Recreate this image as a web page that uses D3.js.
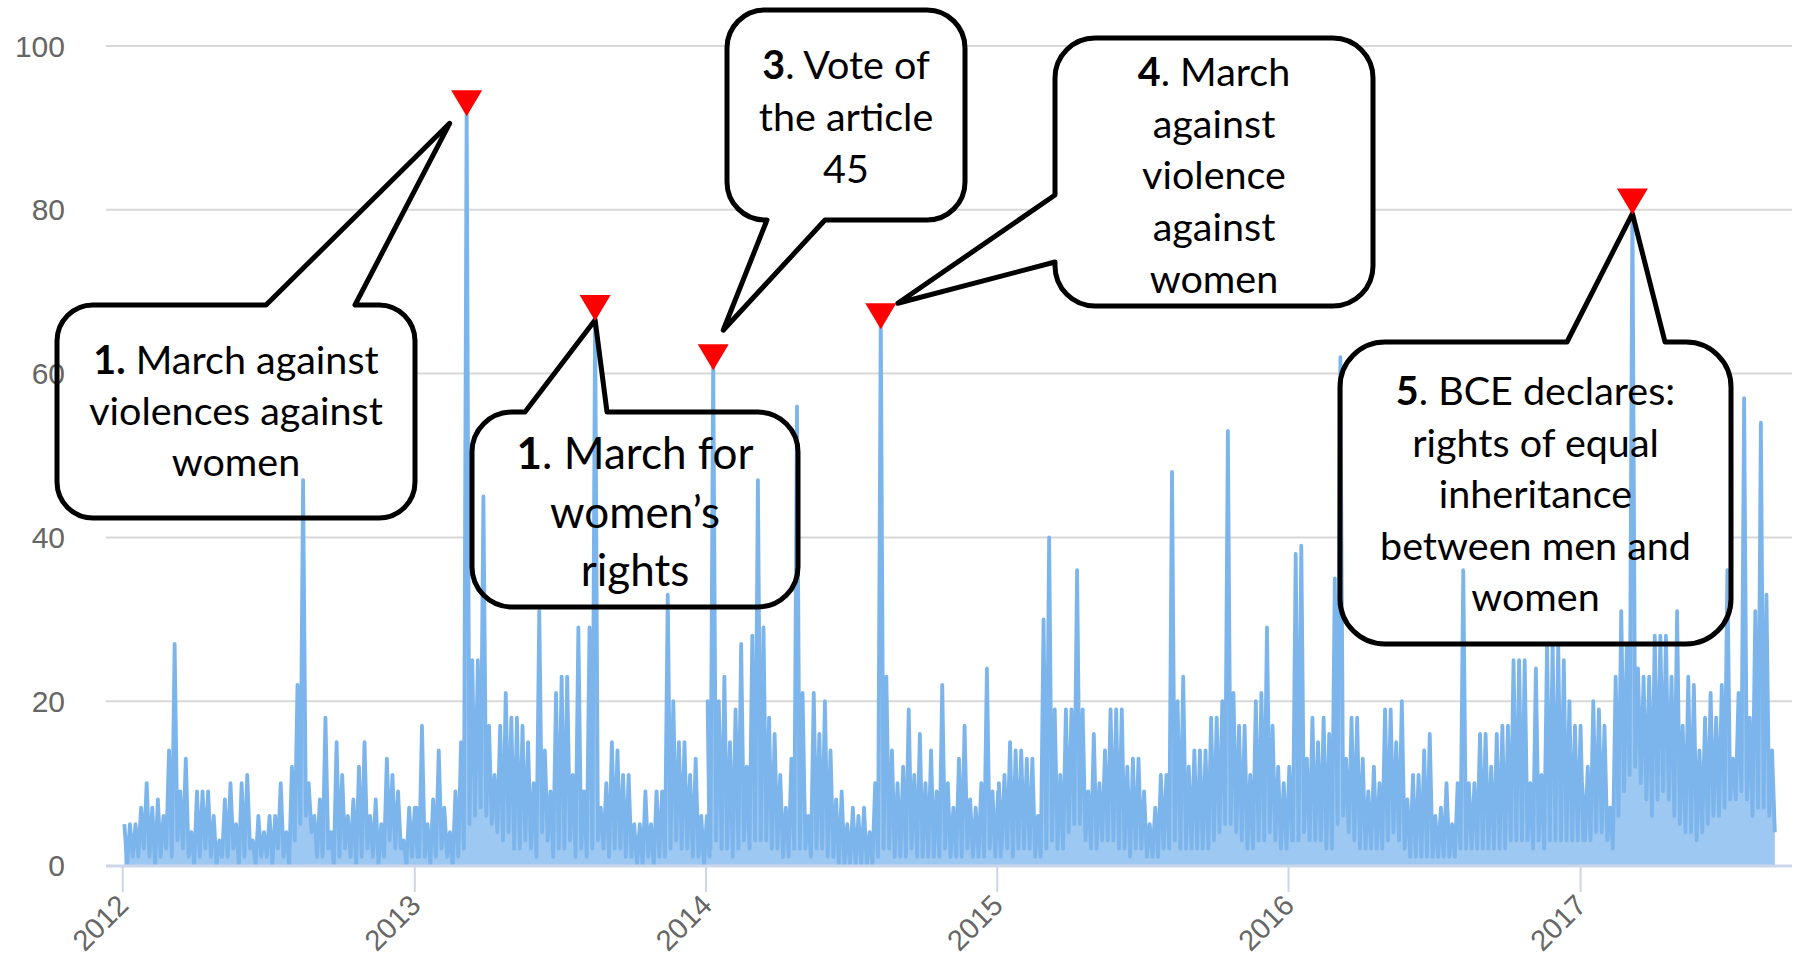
<!DOCTYPE html>
<html>
<head>
<meta charset="utf-8">
<script src="https://d3js.org/d3.v7.min.js"></script>
<style>
  html, body { margin: 0; padding: 0; background: #fff; }
  #chart svg { display: block; }
</style>
</head>
<body>
<div id="chart"></div>
<script>
// weekly highs and lows, one entry per week of each year
var peaks2012 = [5, 5, 5, 7, 10, 7, 8, 6, 14, 27, 9, 13, 4, 9, 9, 9, 6, 3, 8, 10, 5, 10, 11, 3, 6, 4, 6, 6, 10, 4, 12, 22, 47, 10, 6, 8, 18, 4, 15, 11, 6, 8, 12, 15, 6, 8, 5, 13, 11, 9, 3, 7, 7];
var lows2012  = [0, 1, 1, 2, 1, 0, 1, 2, 1, 3, 2, 1, 0, 1, 2, 1, 0, 1, 1, 2, 0, 1, 2, 0, 1, 1, 0, 2, 1, 0, 3, 5, 6, 4, 1, 1, 2, 0, 1, 2, 1, 0, 1, 2, 1, 0, 1, 3, 2, 2, 0, 1, 1];
var peaks2013 = [7, 17, 5, 8, 14, 7, 4, 9, 15, 93, 25, 25, 45, 17, 11, 17, 21, 18, 18, 17, 15, 10, 31, 14, 9, 21, 23, 23, 11, 29, 9, 29, 68, 7, 10, 15, 14, 11, 11, 5, 5, 9, 5, 9, 9, 33, 20, 15, 15, 11, 13, 6, 6];
var lows2013  = [1, 1, 0, 1, 2, 1, 0, 1, 2, 5, 6, 7, 6, 5, 4, 3, 4, 2, 2, 3, 2, 1, 4, 3, 1, 2, 2, 3, 1, 2, 1, 2, 3, 2, 1, 2, 2, 1, 1, 0, 0, 1, 0, 1, 1, 2, 3, 2, 2, 1, 1, 0, 1];
var peaks2014 = [20, 62, 20, 23, 15, 19, 27, 12, 28, 47, 29, 18, 16, 11, 7, 13, 56, 21, 6, 21, 16, 20, 14, 8, 9, 5, 7, 6, 7, 4, 10, 67, 23, 14, 10, 12, 19, 11, 16, 10, 14, 9, 22, 10, 7, 13, 17, 8, 7, 10, 24, 9, 9];
var lows2014  = [2, 3, 2, 2, 1, 2, 3, 2, 3, 3, 3, 2, 2, 1, 1, 2, 2, 2, 1, 2, 2, 1, 1, 0, 0, 0, 0, 0, 0, 0, 1, 2, 2, 1, 1, 1, 2, 1, 1, 1, 1, 1, 2, 1, 1, 1, 2, 1, 1, 1, 2, 1, 1];
var peaks2015 = [10, 11, 15, 14, 14, 13, 13, 6, 30, 40, 19, 11, 19, 19, 36, 19, 9, 16, 10, 14, 19, 19, 19, 12, 13, 13, 9, 5, 7, 11, 11, 48, 20, 23, 12, 14, 14, 14, 18, 18, 20, 53, 21, 17, 17, 11, 20, 21, 29, 17, 12, 10, 12];
var lows2015  = [2, 2, 1, 2, 2, 2, 1, 1, 2, 3, 2, 2, 4, 5, 5, 3, 2, 2, 3, 3, 3, 2, 2, 1, 2, 2, 1, 1, 1, 2, 2, 3, 2, 2, 2, 2, 2, 2, 3, 4, 5, 5, 4, 3, 2, 2, 3, 3, 4, 3, 2, 2, 3];
var peaks2016 = [10, 38, 39, 13, 18, 15, 18, 16, 35, 62, 13, 18, 18, 13, 9, 12, 10, 19, 19, 15, 20, 8, 11, 11, 14, 16, 6, 7, 10, 5, 10, 36, 10, 10, 16, 16, 12, 16, 17, 17, 25, 25, 25, 10, 24, 11, 27, 27, 27, 25, 20, 17, 17];
var lows2016  = [3, 3, 4, 3, 3, 3, 2, 2, 5, 6, 4, 3, 2, 2, 2, 2, 2, 3, 4, 3, 2, 1, 1, 1, 1, 1, 1, 1, 1, 1, 2, 2, 2, 2, 2, 2, 2, 2, 2, 3, 3, 3, 3, 2, 3, 2, 3, 3, 3, 3, 3, 3, 3];
var peaks2017 = [10, 12, 20, 19, 17, 7, 23, 31, 27, 81, 24, 23, 23, 28, 28, 28, 23, 31, 17, 23, 22, 14, 18, 21, 18, 22, 36, 13, 21, 57, 18, 31, 54, 33, 14];
var lows2017  = [3, 3, 4, 4, 3, 2, 6, 9, 11, 12, 10, 8, 6, 8, 9, 8, 6, 5, 4, 4, 3, 4, 5, 6, 6, 7, 8, 8, 9, 8, 6, 7, 7, 6, 4];

var years = [2012, 2013, 2014, 2015, 2016, 2017];
var yTicks = [0, 20, 40, 60, 80, 100];

// annotated events: year, week of the spike, bold number, text lines
var eventYear = [2013, 2013, 2014, 2014, 2017];
var eventWeek = [9, 32, 1, 31, 9];
var eventBold = ["1.", "1", "3", "4", "5"];
var eventLines = [
	[" March against", "violences against", "women"],
	[". March for", "women\u2019s", "rights"],
	[". Vote of", "the article", "45"],
	[". March", "against", "violence", "against", "women"],
	[". BCE declares:", "rights of equal", "inheritance", "between men and", "women"]
];

var width = 1796, height = 956;
var plot = {left: 106, right: 1792, top: 46, bottom: 865};

var svg = d3.select("#chart")
	.append("svg")
	.attr("width", width)
	.attr("height", height);

var x = d3.scaleTime()
	.domain([new Date(2011, 11, 11), new Date(2017, 8, 23)])
	.range([plot.left, plot.right]);

var y = d3.scaleLinear()
	.domain([0, 100])
	.range([plot.bottom, plot.top]);

var peaksByYear = [peaks2012, peaks2013, peaks2014, peaks2015, peaks2016, peaks2017];
var lowsByYear = [lows2012, lows2013, lows2014, lows2015, lows2016, lows2017];

var series = [];
years.forEach(function(yr, i) {
	peaksByYear[i].forEach(function(v, j) {
		series.push({date: new Date(yr, 0, 1 + 7 * j + 2), value: v});
		series.push({date: new Date(yr, 0, 1 + 7 * j + 5, 12), value: lowsByYear[i][j]});
	});
});

var events = eventYear.map(function(yr, i) {
	var yi = years.indexOf(yr);
	return {
		date: new Date(yr, 0, 1 + 7 * eventWeek[i] + 2),
		value: peaksByYear[yi][eventWeek[i]],
		bold: eventBold[i],
		lines: eventLines[i]
	};
});

// callout boxes (layout only)
var callouts = [
	{x: 57, y: 305, w: 358, h: 213, r: 36, side: "top", a1: 266, a2: 355, dx: -17, dy: 20, size: 39.5, lh: 51, base: 374},
	{x: 472, y: 412, w: 326, h: 195, r: 40, side: "top", a1: 525, a2: 607, dx: 0, dy: 12, size: 44, lh: 58.5, base: 469},
	{x: 727, y: 10, w: 238, h: 210, r: 38, side: "bottom", a1: 767, a2: 825, dx: 10, dy: -27, size: 39.5, lh: 52, base: 79},
	{x: 1055, y: 38, w: 318, h: 268, r: 40, side: "left", a1: 195, a2: 262, dx: 17, dy: -13, size: 39.5, lh: 51.7, base: 86},
	{x: 1340, y: 342, w: 391, h: 302, r: 45, side: "top", a1: 1567, a2: 1665, dx: 0, dy: 12, size: 39.5, lh: 51.5, base: 405}
];

function calloutPath(c, tip) {
	var x0 = c.x, y0 = c.y, x1 = c.x + c.w, y1 = c.y + c.h, r = c.r;
	var p = d3.path();
	p.moveTo(x0 + r, y0);
	if (c.side === "top") { p.lineTo(c.a1, y0); p.lineTo(tip[0], tip[1]); p.lineTo(c.a2, y0); }
	p.lineTo(x1 - r, y0);
	p.arcTo(x1, y0, x1, y0 + r, r);
	p.lineTo(x1, y1 - r);
	p.arcTo(x1, y1, x1 - r, y1, r);
	if (c.side === "bottom") { p.lineTo(c.a2, y1); p.lineTo(tip[0], tip[1]); p.lineTo(c.a1, y1); }
	p.lineTo(x0 + r, y1);
	p.arcTo(x0, y1, x0, y1 - r, r);
	if (c.side === "left") { p.lineTo(x0, c.a2); p.lineTo(tip[0], tip[1]); p.lineTo(x0, c.a1); }
	p.lineTo(x0, y0 + r);
	p.arcTo(x0, y0, x0 + r, y0, r);
	p.closePath();
	return p.toString();
}

function tipOf(i) {
	return [x(events[i].date) + callouts[i].dx, y(events[i].value) + callouts[i].dy];
}

// grid
svg.append("g").attr("class", "grid")
	.selectAll("line")
	.data(yTicks.filter(function(d) { return d > 0; }))
	.enter().append("line")
	.attr("x1", plot.left).attr("x2", plot.right)
	.attr("y1", function(d) { return y(d); })
	.attr("y2", function(d) { return y(d); })
	.style("stroke", "#d8d8d8")
	.style("stroke-width", 2);

// white backing of callouts (hides grid, series drawn on top)
svg.append("g").selectAll("path")
	.data(callouts)
	.enter().append("path")
	.attr("d", function(c, i) { return calloutPath(c, tipOf(i)); })
	.style("fill", "#fff")
	.style("stroke", "none");

var area = d3.area()
	.x(function(d) { return x(d.date); })
	.y0(y(0))
	.y1(function(d) { return y(d.value); });

var line = d3.line()
	.x(function(d) { return x(d.date); })
	.y(function(d) { return y(d.value); });

svg.append("path")
	.datum(series)
	.attr("d", area)
	.style("fill", "#9dc8f1");

svg.append("path")
	.datum(series)
	.attr("d", line)
	.style("fill", "none")
	.style("stroke", "#7cb5ec")
	.style("stroke-width", 3.8)
	.style("stroke-linejoin", "round");

// x axis
var xAxis = svg.append("g").attr("class", "x axis");
xAxis.append("line")
	.attr("x1", plot.left).attr("x2", plot.right)
	.attr("y1", y(0) + 1).attr("y2", y(0) + 1)
	.style("stroke", "#ccd6eb")
	.style("stroke-width", 3);

var yearDates = years.map(function(yr) { return new Date(yr, 0, 1); });

xAxis.selectAll(".tick")
	.data(yearDates)
	.enter().append("line")
	.attr("class", "tick")
	.attr("x1", function(d) { return x(d); })
	.attr("x2", function(d) { return x(d); })
	.attr("y1", y(0) + 2)
	.attr("y2", y(0) + 27)
	.style("stroke", "#ccd6eb")
	.style("stroke-width", 2);

xAxis.selectAll(".label")
	.data(yearDates)
	.enter().append("text")
	.attr("class", "label")
	.attr("transform", function(d) { return "translate(" + (x(d) + 7.5) + "," + (y(0) + 42) + ") rotate(-45)"; })
	.attr("text-anchor", "end")
	.style("font", "29px 'Liberation Sans', Arial, sans-serif")
	.style("fill", "#666")
	.text(function(d) { return d.getFullYear(); });

// y axis labels
svg.append("g").attr("class", "y axis")
	.selectAll("text")
	.data(yTicks)
	.enter().append("text")
	.attr("x", 65)
	.attr("y", function(d) { return y(d); })
	.attr("dy", "0.35em")
	.attr("text-anchor", "end")
	.style("font", "30px 'Liberation Sans', Arial, sans-serif")
	.style("fill", "#666")
	.text(function(d) { return d; });

// callout outlines and text
var notes = svg.append("g").attr("class", "notes");

notes.selectAll("path")
	.data(callouts)
	.enter().append("path")
	.attr("d", function(c, i) { return calloutPath(c, tipOf(i)); })
	.style("fill", "none")
	.style("stroke", "#000")
	.style("stroke-width", 5)
	.style("stroke-linejoin", "round");

callouts.forEach(function(c, i) {
	var ev = events[i];
	var t = notes.append("text")
		.attr("text-anchor", "middle")
		.style("font-family", "Lato, 'Open Sans', sans-serif")
		.style("font-size", c.size + "px")
		.style("fill", "#000");
	ev.lines.forEach(function(txt, k) {
		var row = t.append("tspan")
			.attr("x", c.x + c.w / 2)
			.attr("y", c.base + k * c.lh);
		if (k === 0) {
			row.append("tspan").style("font-weight", "bold").text(ev.bold);
			row.append("tspan").text(txt);
		} else {
			row.text(txt);
		}
	});
});

// red markers on the annotated spikes
svg.append("g").selectAll("path")
	.data(events)
	.enter().append("path")
	.attr("d", function(d) {
		var cx = x(d.date), cy = y(d.value);
		return "M" + (cx - 15.5) + "," + (cy - 13) + "L" + (cx + 15.5) + "," + (cy - 13) + "L" + cx + "," + (cy + 13) + "Z";
	})
	.style("fill", "#ff0000");
</script>
</body>
</html>
